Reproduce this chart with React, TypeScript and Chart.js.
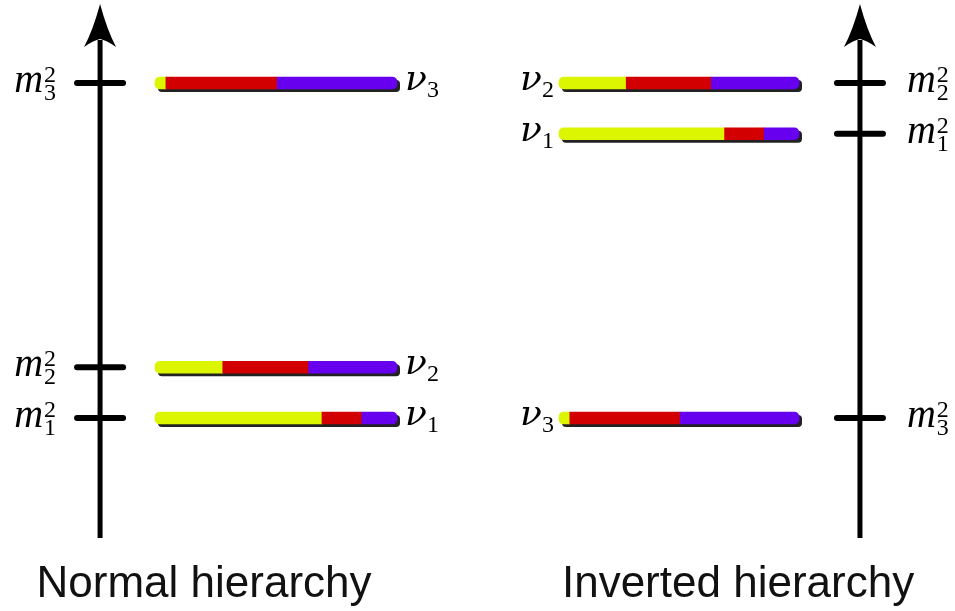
import React, { useEffect, useRef } from 'react';
import { Chart, registerables } from 'chart.js';

Chart.register(...registerables);

// ---- data ----
const flavorNames = ['νe', 'νμ', 'ντ'];
const flavorColors = ['#dcf500', '#d20000', '#6600ee'];
const eigenstateIndex = ['1', '2', '3'];
const electronFraction = [0.69, 0.28, 0.045];
const muonFraction = [0.165, 0.355, 0.46];
const tauFraction = [0.145, 0.365, 0.495];
const normalMassSq = [0, 1, 6.6];
const invertedMassSq = [5.6, 6.6, 0];
const panelTitles = ['Normal hierarchy', 'Inverted hierarchy'];

const flavorFractions = [electronFraction, muonFraction, tauFraction];

type PanelCfg = {
  title: string;
  massSq: number[];
  left: number;
  width: number;
  xMin: number;
  xMax: number;
  axisX: number;
  titleX: number;
  massLabelSide: 'left' | 'right';
  nuLabelSide: 'left' | 'right';
};

const Y_MIN = -3.802;
const Y_MAX = 8.235;
const ARROW_TIP = 8.156;
const AXIS_BOTTOM = -2.364;
const TITLE_BASELINE = -3.526;

const panels: PanelCfg[] = [
  {
    title: panelTitles[0],
    massSq: normalMassSq,
    left: 0,
    width: 478,
    xMin: -0.6405,
    xMax: 1.3347,
    axisX: -0.227,
    titleX: 0.2025,
    massLabelSide: 'left',
    nuLabelSide: 'right',
  },
  {
    title: panelTitles[1],
    massSq: invertedMassSq,
    left: 478,
    width: 477,
    xMin: -0.3375,
    xMax: 1.65,
    axisX: 1.254,
    titleX: 0.746,
    massLabelSide: 'right',
    nuLabelSide: 'left',
  },
];

const M_FONT = 'italic 40px "Liberation Serif", "DejaVu Serif", serif';
const NU_FONT = 'italic 36px "DejaVu Serif", "Liberation Serif", serif';
const DIGIT = '24px "Liberation Serif", "DejaVu Serif", serif';

function roundRect(ctx: any, x: number, y: number, w: number, h: number, r: number) {
  ctx.beginPath();
  ctx.moveTo(x + r, y);
  ctx.lineTo(x + w - r, y);
  ctx.arcTo(x + w, y, x + w, y + r, r);
  ctx.lineTo(x + w, y + h - r);
  ctx.arcTo(x + w, y + h, x + w - r, y + h, r);
  ctx.lineTo(x + r, y + h);
  ctx.arcTo(x, y + h, x, y + h - r, r);
  ctx.lineTo(x, y + r);
  ctx.arcTo(x, y, x + r, y, r);
  ctx.closePath();
}

function makeDecor(p: PanelCfg) {
  return {
    id: 'decor',
    beforeDatasetsDraw(chart: any) {
      // one drop shadow under each whole bar
      const ctx = chart.ctx;
      const xs = chart.scales.x;
      const ys = chart.scales.y;
      const x0 = xs.getPixelForValue(0);
      const x1 = xs.getPixelForValue(1);
      ctx.save();
      ctx.fillStyle = '#222';
      p.massSq.forEach((m) => {
        const y = ys.getPixelForValue(m);
        roundRect(ctx, x0 + 3, y - 6 + 3, x1 - x0, 12, 4);
        ctx.fill();
      });
      ctx.restore();
    },
    afterDraw(chart: any) {
      const ctx = chart.ctx;
      const xs = chart.scales.x;
      const ys = chart.scales.y;
      const ax = xs.getPixelForValue(p.axisX);
      const top = ys.getPixelForValue(ARROW_TIP);
      const bottom = ys.getPixelForValue(AXIS_BOTTOM);
      ctx.save();
      ctx.strokeStyle = '#000';
      ctx.fillStyle = '#000';
      // axis shaft
      ctx.lineWidth = 5;
      ctx.lineCap = 'butt';
      ctx.beginPath();
      ctx.moveTo(ax, bottom);
      ctx.lineTo(ax, top + 36);
      ctx.stroke();
      // arrow head
      ctx.beginPath();
      ctx.moveTo(ax, top);
      ctx.quadraticCurveTo(ax + 7, top + 26, ax + 16, top + 43);
      ctx.quadraticCurveTo(ax + 6, top + 36, ax, top + 35);
      ctx.quadraticCurveTo(ax - 6, top + 36, ax - 16, top + 43);
      ctx.quadraticCurveTo(ax - 7, top + 26, ax, top);
      ctx.closePath();
      ctx.fill();

      // ticks and mass labels
      p.massSq.forEach((m, i) => {
        const y = ys.getPixelForValue(m);
        ctx.lineWidth = 6;
        ctx.lineCap = 'round';
        ctx.beginPath();
        ctx.moveTo(ax - 23, y);
        ctx.lineTo(ax + 23, y);
        ctx.stroke();

        ctx.font = M_FONT;
        const mW = ctx.measureText('m').width;
        let mx: number;
        let sx: number;
        if (p.massLabelSide === 'left') {
          sx = ax - 56;
          mx = sx - mW - 1;
        } else {
          mx = ax + 47;
          sx = mx + mW + 1;
        }
        ctx.textAlign = 'left';
        ctx.textBaseline = 'alphabetic';
        ctx.fillText('m', mx, y + 9);
        ctx.font = DIGIT;
        ctx.fillText('2', sx, y - 1);
        ctx.fillText(eigenstateIndex[i], sx, y + 17);

        // nu labels
        const barStart = xs.getPixelForValue(0);
        const barEnd = xs.getPixelForValue(1);
        ctx.font = NU_FONT;
        const nW = ctx.measureText('ν').width;
        ctx.font = DIGIT;
        const dW = ctx.measureText(eigenstateIndex[i]).width;
        let nx: number;
        if (p.nuLabelSide === 'right') {
          nx = barEnd + 8;
        } else {
          nx = barStart - 5 - dW - nW;
        }
        ctx.font = NU_FONT;
        ctx.fillText('ν', nx, y + 7);
        ctx.font = DIGIT;
        ctx.fillText(eigenstateIndex[i], nx + nW, y + 14);
      });

      // panel title
      ctx.font = '44px "Liberation Sans", Arial, sans-serif';
      ctx.fillStyle = '#111';
      ctx.textAlign = 'center';
      ctx.textBaseline = 'alphabetic';
      ctx.fillText(p.title, xs.getPixelForValue(p.titleX), ys.getPixelForValue(TITLE_BASELINE));
      ctx.restore();
    },
  };
}

function Panel({ cfg }: { cfg: PanelCfg }) {
  const ref = useRef<HTMLCanvasElement>(null);
  useEffect(() => {
    if (!ref.current) return;
    const datasets = flavorNames.map((name, f) => {
      const radius =
        f === 0
          ? { topLeft: 5, bottomLeft: 5, topRight: 0, bottomRight: 0 }
          : f === 2
          ? { topLeft: 0, bottomLeft: 0, topRight: 5, bottomRight: 5 }
          : 0;
      return {
        label: name,
        data: cfg.massSq.map((m, i) => {
          let start = 0;
          for (let k = 0; k < f; k++) start += flavorFractions[k][i];
          return { x: [start, start + flavorFractions[f][i]], y: m };
        }),
        backgroundColor: flavorColors[f],
        borderWidth: 0,
        borderSkipped: false,
        borderRadius: radius,
        barThickness: 12,
        grouped: false,
        order: 3 - f,
      };
    });
    const chart = new Chart(ref.current, {
      type: 'bar',
      data: { datasets } as any,
      options: {
        indexAxis: 'y',
        animation: false,
        responsive: false,
        events: [],
        layout: { padding: 0 },
        plugins: {
          legend: { display: false },
          tooltip: { enabled: false },
          title: { display: false },
        },
        scales: {
          x: { type: 'linear', min: cfg.xMin, max: cfg.xMax, display: false },
          y: { type: 'linear', min: Y_MIN, max: Y_MAX, display: false, offset: false },
        },
      } as any,
      plugins: [makeDecor(cfg)],
    });
    return () => chart.destroy();
  }, [cfg]);
  return (
    <canvas
      ref={ref}
      width={cfg.width}
      height={611}
      style={{ position: 'absolute', left: cfg.left, top: 0 }}
    />
  );
}

export default function App() {
  return (
    <div
      style={{
        position: 'fixed',
        left: 0,
        top: 0,
        width: 955,
        height: 611,
        background: '#fff',
        overflow: 'hidden',
      }}
    >
      {panels.map((p) => (
        <Panel key={p.title} cfg={p} />
      ))}
    </div>
  );
}
